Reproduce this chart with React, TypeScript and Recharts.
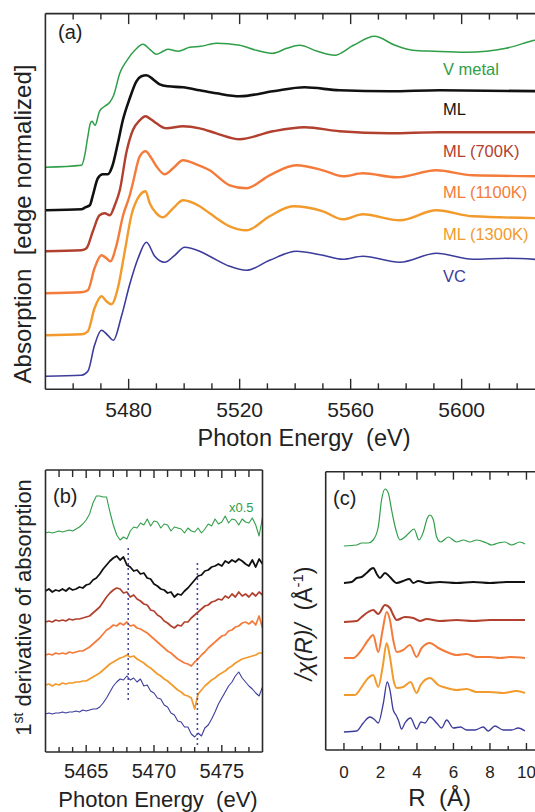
import React from 'react';
import { LineChart, Line, XAxis, YAxis } from 'recharts';

type Pt = [number, number];
const toXY = (pts: Pt[]) => pts.map(([x, y]) => ({ x, y }));

const FONT = '"Liberation Sans", Arial, Helvetica, sans-serif';
const FRAME = '#2a2a2a';
const TXT = '#222222';

const COL_VMETAL = '#2f9e48';
const COL_ML = '#111111';
const COL_700 = '#b2402e';
const COL_1100 = '#f47b3a';
const COL_1300 = '#f29a2c';
const COL_VC = '#3c3c9c';
const COL_DOT = '#4a4aa2';

// ---------------- Panel (a): XANES, stacked ----------------
const A_TICKS = [5460, 5470, 5480, 5490, 5500, 5510, 5520, 5530, 5540, 5550, 5560, 5570, 5580, 5590, 5600, 5610, 5620, 5630];
const A_MAJOR = [5480, 5520, 5560, 5600];

const aVMetal: Pt[] = [[5450,2.22],[5463,2.24],[5464.1,2.33],[5465.3,2.53],[5466.2,2.66],[5466.8,2.68],[5467.9,2.64],[5469.5,2.78],[5471.4,2.83],[5473.2,2.87],[5474.6,2.94],[5476.8,3.16],[5479.4,3.29],[5482.2,3.39],[5485.2,3.45],[5487.6,3.40],[5490,3.35],[5492.4,3.38],[5494.2,3.40],[5497.8,3.38],[5502,3.42],[5506,3.43],[5511.6,3.46],[5520,3.44],[5526,3.39],[5532,3.36],[5537,3.41],[5541.6,3.44],[5548,3.38],[5554.2,3.34],[5561,3.44],[5568.6,3.53],[5576,3.44],[5582.4,3.39],[5590,3.38],[5601.7,3.37],[5616,3.41],[5626.3,3.49],[5632,3.52]];
const aML: Pt[] = [[5450,1.79],[5463,1.80],[5464.4,1.82],[5466,1.84],[5467.1,1.94],[5468.9,2.11],[5470.7,2.15],[5472.5,2.15],[5474.1,2.23],[5476.1,2.46],[5477.9,2.69],[5480.4,2.91],[5482.8,3.08],[5484.6,3.13],[5486.4,3.14],[5488.8,3.10],[5491.2,3.05],[5494.2,3.03],[5499.6,3.02],[5505.6,2.99],[5511.6,2.96],[5520,2.93],[5532,2.98],[5543.4,3.02],[5556,2.99],[5574,2.98],[5592,2.99],[5632,2.98]];
const aML700: Pt[] = [[5450,1.38],[5463,1.39],[5464.8,1.41],[5467.1,1.58],[5469.5,1.74],[5471.4,1.76],[5473.2,1.74],[5475,1.84],[5476.8,1.99],[5479.2,2.37],[5481.5,2.59],[5484,2.69],[5486.1,2.73],[5488,2.70],[5490,2.66],[5493.6,2.61],[5499.6,2.63],[5505.6,2.61],[5511.6,2.56],[5520,2.50],[5532,2.58],[5543.4,2.62],[5556,2.58],[5574,2.56],[5592,2.57],[5632,2.57]];
const aML1100: Pt[] = [[5450,0.96],[5463,0.97],[5465.3,0.99],[5467.7,1.21],[5470.2,1.34],[5472,1.31],[5473.4,1.28],[5475.6,1.44],[5478,1.74],[5480.4,1.94],[5481.5,2.06],[5484,2.33],[5486.1,2.38],[5488.2,2.31],[5490,2.23],[5493,2.15],[5496,2.21],[5499.6,2.29],[5504.4,2.25],[5509.2,2.19],[5516.4,2.04],[5522.4,2.01],[5530.8,2.14],[5540.4,2.24],[5550,2.19],[5557.2,2.13],[5564.4,2.16],[5576.5,2.12],[5590.9,2.19],[5604,2.14],[5632,2.13]];
const aML1300: Pt[] = [[5450,0.54],[5463,0.55],[5465.3,0.58],[5467.7,0.81],[5470.2,0.93],[5472,0.88],[5473.8,0.85],[5476.1,1.01],[5478.6,1.38],[5481,1.74],[5484,1.94],[5486.1,1.98],[5487.6,1.86],[5490,1.76],[5492.4,1.72],[5496,1.81],[5499.6,1.89],[5505.6,1.83],[5509.2,1.76],[5516.4,1.63],[5522.4,1.59],[5530.8,1.73],[5539.2,1.83],[5550,1.78],[5557.2,1.70],[5564.4,1.75],[5577.7,1.69],[5590.9,1.79],[5604,1.73],[5632,1.71]];
const aVC: Pt[] = [[5450,0.13],[5463,0.14],[5465.3,0.18],[5467.7,0.44],[5470.2,0.59],[5472.5,0.54],[5474.5,0.49],[5477.4,0.73],[5480.4,1.05],[5483.4,1.31],[5486.4,1.47],[5489.4,1.33],[5493,1.27],[5496.6,1.34],[5500.2,1.42],[5505.6,1.38],[5509.2,1.33],[5516.4,1.23],[5522.4,1.19],[5530.8,1.29],[5540.4,1.38],[5550,1.34],[5557.2,1.30],[5564.4,1.33],[5577.7,1.27],[5590.9,1.36],[5604,1.30],[5616,1.31],[5632,1.29]];

const A_LABELS = ['V metal', 'ML', 'ML (700K)', 'ML (1100K)', 'ML (1300K)', 'VC'];

// ---------------- Panel (b): 1st derivative ----------------
const B_START = 5462;
const B_STEP = 0.25;
const B_TICKS = [5463, 5464, 5465, 5466, 5467, 5468, 5469, 5470, 5471, 5472, 5473, 5474, 5475, 5476, 5477];
const B_MAJOR = [5465, 5470, 5475];

const bVMetal = [219,220,219,220,221,220,221,222,221,223,225,228,232,238,249,256,256,255,255,240,227,217,212,215,213,221,225,224,229,227,233,226,231,230,224,228,227,221,225,224,223,219,224,221,220,224,219,223,228,226,233,228,230,236,229,233,232,227,233,230,229,234,227,216,235];
const bML = [161,163,160,162,161,163,161,164,162,163,165,164,167,168,172,174,178,183,187,191,194,196,192,195,187,185,181,182,178,179,174,173,168,166,163,162,159,160,155,158,157,161,164,168,172,176,177,181,182,185,186,188,186,191,189,192,190,193,191,188,186,192,185,193,188];
const bML700 = [130,131,130,132,131,132,131,133,132,133,133,134,135,136,139,142,145,150,155,159,162,164,163,159,160,155,157,153,151,148,147,142,141,137,135,131,129,126,124,127,126,130,130,134,137,140,143,146,147,150,151,153,152,156,154,158,155,160,156,158,155,159,156,160,157];
const bML1100 = [97,98,97,99,98,99,98,100,99,100,101,101,103,105,108,111,114,118,122,124,127,126,129,127,130,126,127,124,123,121,119,116,113,110,107,104,101,99,96,93,91,89,88,86,90,93,97,100,104,107,110,113,116,117,121,122,125,126,129,130,128,131,127,136,124];
const bML1300 = [67,68,66,68,67,69,68,69,69,70,70,71,71,73,75,77,79,82,85,88,90,92,94,95,97,95,96,93,91,89,86,84,81,78,76,73,71,68,65,62,60,57,56,54,43,58,62,66,69,72,74,77,79,81,84,86,89,91,93,94,95,96,97,99,99];
const bVC = [38,39,38,39,39,40,39,40,40,41,40,42,41,42,43,43,45,49,54,60,66,70,73,72,76,72,74,70,73,66,67,61,59,54,53,47,45,39,37,31,30,25,25,18,15,19,16,24,27,33,40,48,54,60,66,70,76,80,74,70,66,63,59,56,65];
const bGuide1: Pt[] = [[5468.1, 52], [5468.1, 204]];
const bGuide2: Pt[] = [[5473.2, 7], [5473.2, 190]];

const bSeries = (vals: number[]) => vals.map((y, i) => ({ x: B_START + i * B_STEP, y }));

// ---------------- Panel (c): |chi(R)| ----------------
const C_TICKS = [0, 1, 2, 3, 4, 5, 6, 7, 8, 9, 10];
const C_MAJOR = [0, 2, 4, 6, 8, 10];

const cVMetal: Pt[] = [[0,204],[0.7,205],[0.97,207],[1.33,207],[1.6,210],[1.88,223],[2.06,250],[2.25,261],[2.43,257],[2.61,240],[2.85,220],[3.07,210],[3.34,213],[3.62,218],[3.84,221],[4.11,210],[4.35,218],[4.57,232],[4.71,235],[4.9,230],[5.08,213],[5.3,208],[5.72,213],[6.17,208],[6.54,210],[6.9,208],[7.27,210],[7.82,207],[8.09,205],[8.46,207],[8.82,208],[9.19,205],[9.64,208],[9.92,206]];
const cML: Pt[] = [[0,167],[0.42,168],[0.7,172],[0.97,173],[1.24,177],[1.6,182],[1.83,175],[1.97,172],[2.25,177],[2.52,173],[2.89,167],[3.25,169],[3.58,171],[3.8,167],[4.07,169],[4.53,167],[5.26,168],[6.17,167],[7.09,168],[8.0,167],[8.91,168],[9.92,168]];
const cML700: Pt[] = [[0,128],[0.7,129],[0.97,133],[1.33,138],[1.6,140],[1.88,136],[2.25,145],[2.52,142],[2.7,135],[2.89,130],[3.34,133],[3.8,132],[4.16,129],[4.53,131],[5.26,129],[6.17,130],[7.09,129],[8.0,130],[9.92,130]];
const cML1100: Pt[] = [[0,92],[0.51,92],[0.88,98],[1.33,110],[1.6,115],[1.88,98],[2.12,120],[2.34,138],[2.52,130],[2.7,110],[2.89,98],[3.25,100],[3.62,105],[3.98,93],[4.26,102],[4.71,107],[5.17,102],[5.63,98],[6.17,95],[6.72,96],[7.27,93],[8.0,93],[8.55,92],[9.1,93],[9.92,92]];
const cML1300: Pt[] = [[0,55],[0.6,55],[0.97,63],[1.33,72],[1.6,75],[1.88,63],[2.12,83],[2.34,107],[2.52,93],[2.74,68],[2.89,62],[3.25,63],[3.65,68],[3.98,57],[4.2,65],[4.71,72],[5.17,65],[5.63,62],[6.17,60],[6.72,61],[7.27,58],[8.0,58],[8.73,57],[9.46,59],[9.92,57]];
const cVC: Pt[] = [[0,18],[0.7,19],[1.06,27],[1.42,33],[1.7,30],[1.88,27],[2.16,47],[2.37,68],[2.52,60],[2.7,40],[2.85,35],[2.98,30],[3.16,21],[3.34,27],[3.65,32],[3.98,21],[4.22,28],[4.44,27],[4.71,33],[5.08,27],[5.35,22],[5.63,30],[5.99,22],[6.39,23],[6.72,20],[7.18,20],[7.63,23],[7.91,19],[8.27,24],[8.73,20],[9.19,20],[9.55,22],[9.92,19]];

// ---------------- tick renderers ----------------
const bottomTick = (majors: number[], majLen: number, minLen: number, labelDy: number, fs: number) => (props: any) => {
  const { x, y, payload } = props;
  const major = majors.includes(payload.value);
  return (
    <g>
      <line x1={x} x2={x} y1={y} y2={y - (major ? majLen : minLen)} stroke={FRAME} strokeWidth={1.4} />
      {major ? (
        <text x={x} y={y + labelDy} textAnchor="middle" fontSize={fs} fontFamily={FONT} fill={TXT}>
          {payload.value}
        </text>
      ) : null}
    </g>
  );
};
const topTick = (majors: number[], majLen: number, minLen: number) => (props: any) => {
  const { x, y, payload } = props;
  const major = majors.includes(payload.value);
  return <line x1={x} x2={x} y1={y} y2={y + (major ? majLen : minLen)} stroke={FRAME} strokeWidth={1.4} />;
};

const axisLine = { stroke: FRAME, strokeWidth: 1.6 };

export default function App() {
  const aSeries = [
    { d: aVMetal, c: COL_VMETAL, w: 1.5 },
    { d: aML, c: COL_ML, w: 2.6 },
    { d: aML700, c: COL_700, w: 2.4 },
    { d: aML1100, c: COL_1100, w: 2.4 },
    { d: aML1300, c: COL_1300, w: 2.4 },
    { d: aVC, c: COL_VC, w: 1.6 },
  ];
  const bList = [
    { d: bVMetal, c: COL_VMETAL, w: 1.1 },
    { d: bML, c: COL_ML, w: 1.8 },
    { d: bML700, c: COL_700, w: 1.7 },
    { d: bML1100, c: COL_1100, w: 1.7 },
    { d: bML1300, c: COL_1300, w: 1.7 },
    { d: bVC, c: COL_VC, w: 1.1 },
  ];
  const cList = [
    { d: cVMetal, c: COL_VMETAL, w: 1.2 },
    { d: cML, c: COL_ML, w: 2 },
    { d: cML700, c: COL_700, w: 2 },
    { d: cML1100, c: COL_1100, w: 2 },
    { d: cML1300, c: COL_1300, w: 2 },
    { d: cVC, c: COL_VC, w: 1.3 },
  ];
  const aLabelColors = [COL_VMETAL, COL_ML, COL_700, COL_1100, COL_1300, COL_VC];
  const aLabelY = [75, 115, 156.5, 198, 240, 281.5];

  return (
    <div style={{ position: 'fixed', left: 0, top: 0, width: 535, height: 812, overflow: 'hidden', background: '#fff' }}>
      {/* Panel (a) */}
      <div style={{ position: 'absolute', left: 0, top: 0 }}>
        <LineChart width={600} height={460} margin={{ top: 12.6, right: 27.35, bottom: 69.7, left: 44.4 }}>
          <XAxis xAxisId="b" dataKey="x" type="number" domain={[5450, 5640]} ticks={A_TICKS} interval={0} height={1}
            tickSize={0} tickMargin={0} tickLine={false} axisLine={axisLine} tick={bottomTick(A_MAJOR, 10.5, 6, 28, 21)} allowDataOverflow />
          <XAxis xAxisId="t" orientation="top" dataKey="x" type="number" domain={[5450, 5640]} ticks={A_TICKS} interval={0} height={1}
            tickSize={0} tickMargin={0} tickLine={false} axisLine={axisLine} tick={topTick(A_MAJOR, 10.5, 6)} allowDataOverflow />
          <YAxis yAxisId="l" type="number" domain={[0, 3.757]} width={1} tick={false} tickLine={false} axisLine={axisLine} allowDataOverflow />
          {aSeries.map((s, i) => (
            <Line key={i} xAxisId="b" yAxisId="l" data={toXY(s.d)} dataKey="y" type="monotone" stroke={s.c} strokeWidth={s.w}
              dot={false} activeDot={false} isAnimationActive={false} strokeLinejoin="round" />
          ))}
        </LineChart>
      </div>

      {/* Panel (b) */}
      <div style={{ position: 'absolute', left: 0, top: 460 }}>
        <LineChart width={280} height={352} margin={{ top: 9, right: 16.5, bottom: 59, left: 44.5 }}>
          <XAxis xAxisId="b" dataKey="x" type="number" domain={[5462, 5478]} ticks={B_TICKS} interval={0} height={1}
            tickSize={0} tickMargin={0} tickLine={false} axisLine={axisLine} tick={bottomTick(B_MAJOR, 7, 5, 26.3, 20)} allowDataOverflow />
          <XAxis xAxisId="t" orientation="top" dataKey="x" type="number" domain={[5462, 5478]} ticks={B_TICKS} interval={0} height={1}
            tickSize={0} tickMargin={0} tickLine={false} axisLine={axisLine} tick={topTick(B_MAJOR, 8, 7)} allowDataOverflow />
          <YAxis yAxisId="l" type="number" domain={[0, 282]} width={1} tick={false} tickLine={false} axisLine={axisLine} allowDataOverflow />
          <YAxis yAxisId="r" orientation="right" type="number" domain={[0, 282]} width={1} tick={false} tickLine={false} axisLine={axisLine} allowDataOverflow />
          {bList.map((s, i) => (
            <Line key={i} xAxisId="b" yAxisId="l" data={bSeries(s.d)} dataKey="y" type="linear" stroke={s.c} strokeWidth={s.w}
              dot={false} activeDot={false} isAnimationActive={false} strokeLinejoin="round" />
          ))}
          <Line xAxisId="b" yAxisId="l" data={toXY(bGuide1)} dataKey="y" stroke={COL_DOT} strokeWidth={1.6} strokeDasharray="2 3"
            dot={false} activeDot={false} isAnimationActive={false} />
          <Line xAxisId="b" yAxisId="l" data={toXY(bGuide2)} dataKey="y" stroke={COL_DOT} strokeWidth={1.6} strokeDasharray="2 3"
            dot={false} activeDot={false} isAnimationActive={false} />
        </LineChart>
      </div>

      {/* Panel (c) */}
      <div style={{ position: 'absolute', left: 290, top: 460 }}>
        <LineChart width={260} height={352} margin={{ top: 10.7, right: 5.3, bottom: 61, left: 34.7 }}>
          <XAxis xAxisId="b" dataKey="x" type="number" domain={[-1, 11]} ticks={C_TICKS} interval={0} height={1}
            tickSize={0} tickMargin={0} tickLine={false} axisLine={axisLine} tick={bottomTick(C_MAJOR, 7, 4, 27.7, 17)} allowDataOverflow />
          <XAxis xAxisId="t" orientation="top" dataKey="x" type="number" domain={[-1, 11]} ticks={C_TICKS} interval={0} height={1}
            tickSize={0} tickMargin={0} tickLine={false} axisLine={axisLine} tick={topTick(C_MAJOR, 8, 4)} allowDataOverflow />
          <YAxis yAxisId="l" type="number" domain={[0, 278.3]} width={1} tick={false} tickLine={false} axisLine={axisLine} allowDataOverflow />
          {cList.map((s, i) => (
            <Line key={i} xAxisId="b" yAxisId="l" data={toXY(s.d)} dataKey="y" type="monotone" stroke={s.c} strokeWidth={s.w}
              dot={false} activeDot={false} isAnimationActive={false} strokeLinejoin="round" />
          ))}
        </LineChart>
      </div>

      {/* Text overlay */}
      <svg width={535} height={812} style={{ position: 'absolute', left: 0, top: 0, pointerEvents: 'none' }} fontFamily={FONT}>
        <text x={58} y={39} fontSize={20} fill={TXT}>(a)</text>
        <text transform="translate(31,224) rotate(-90)" textAnchor="middle" fontSize={24} fill={TXT}>
          {'Absorption\u00a0 [edge normalized]'}
        </text>
        <text x={304} y={446} textAnchor="middle" fontSize={23.5} fill={TXT}>{'Photon Energy\u00a0 (eV)'}</text>
        {A_LABELS.map((t, i) => (
          <text key={t} x={443} y={aLabelY[i]} fontSize={16.5} fill={aLabelColors[i]}>{t}</text>
        ))}

        <text x={53} y={503} fontSize={20} fill={TXT}>(b)</text>
        <text x={229} y={511.5} fontSize={13} fill={COL_VMETAL}>x0.5</text>
        <text transform="translate(31,607.5) rotate(-90)" textAnchor="middle" fontSize={22} fill={TXT}>
          1<tspan fontSize={14} dy={-8}>st</tspan><tspan dy={8}>{'\u00a0derivative of absorption'}</tspan>
        </text>
        <text x={158} y={807} textAnchor="middle" fontSize={22} fill={TXT}>{'Photon Energy\u00a0 (eV)'}</text>

        <text x={333} y={505} fontSize={20} fill={TXT}>(c)</text>
        <text transform="translate(312,623.5) rotate(-90)" textAnchor="middle" fontSize={23} fill={TXT}>
          <tspan fontStyle="italic">{'/χ(R)/'}</tspan>{'\u00a0 (Å'}<tspan fontSize={15} dy={-9}>-1</tspan><tspan dy={9}>)</tspan>
        </text>
        <text x={439.7} y={806} textAnchor="middle" fontSize={24} fill={TXT}>{'R\u00a0 (Å)'}</text>
      </svg>
    </div>
  );
}
